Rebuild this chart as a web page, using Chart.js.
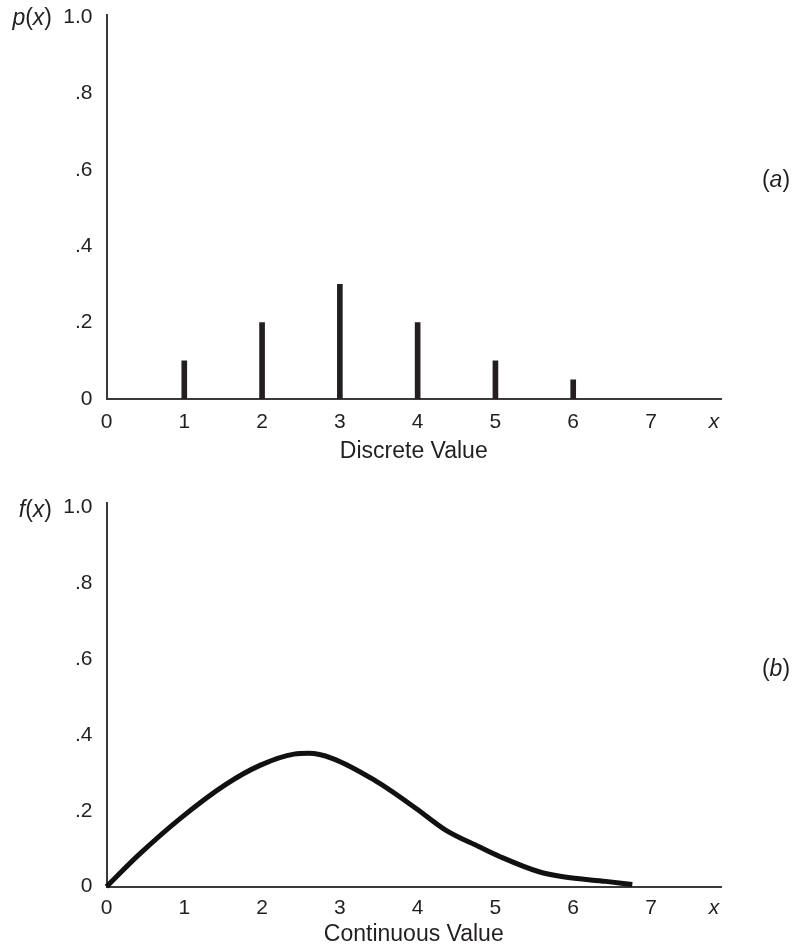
<!DOCTYPE html>
<html>
<head>
<meta charset="utf-8">
<script src="https://cdn.jsdelivr.net/npm/chart.js@4.4.1/dist/chart.umd.min.js"></script>
<style>
  html, body { margin: 0; padding: 0; background: #ffffff; }
  #wrap { position: relative; width: 798px; height: 951px; overflow: hidden; }
  canvas { position: absolute; left: 0; }
  #c1 { top: 0; }
  #c2 { top: 475px; }
</style>
</head>
<body>
<div id="wrap">
  <canvas id="c1" width="798" height="475"></canvas>
  <canvas id="c2" width="798" height="476"></canvas>
</div>
<script>
// ---- data ----
const xTicks = [0, 1, 2, 3, 4, 5, 6, 7];
const xAxisSymbol = 'x';
const yTicks = [0, 0.2, 0.4, 0.6, 0.8, 1.0];
const yTickLabels = ['0', '.2', '.4', '.6', '.8', '1.0'];

const discreteX = [1, 2, 3, 4, 5, 6];
const discreteP = [0.10, 0.20, 0.30, 0.20, 0.10, 0.05];

const continuousX = [0, 0.41, 0.95, 1.54, 1.98, 2.41, 2.60, 2.90, 3.44, 3.98, 4.36, 4.79, 5.06, 5.55, 5.87, 6.42, 6.76];
const continuousF = [0, 0.083, 0.180, 0.270, 0.320, 0.349, 0.351, 0.338, 0.281, 0.206, 0.149, 0.105, 0.079, 0.040, 0.026, 0.014, 0.006];

const titleTop = 'Discrete Value';
const titleBottom = 'Continuous Value';
const funcTop = 'p';
const funcBottom = 'f';
const tagTop = 'a';
const tagBottom = 'b';

// ---- styling ----
const FONT = "'Liberation Sans', Arial, Helvetica, sans-serif";
const INK = '#231f20';
const AXIS = '#3a3a3a';
const X_SYMBOL_POS = 7.81;

const extraLabels = {
  id: 'extraLabels',
  afterDraw(chart, args, o) {
    const ctx = chart.ctx;
    const yScale = chart.scales.y;
    ctx.save();
    ctx.fillStyle = INK;
    ctx.textBaseline = 'middle';
    const drawParts = (parts, startX, y) => {
      let x = startX;
      for (const [t, st] of parts) {
        ctx.font = (st === 'italic' ? 'italic ' : '') + o.size + 'px ' + FONT;
        ctx.fillText(t, x, y);
        x += ctx.measureText(t).width;
      }
    };
    const width = (parts) => parts.reduce((s, [t, st]) => {
      ctx.font = (st === 'italic' ? 'italic ' : '') + o.size + 'px ' + FONT;
      return s + ctx.measureText(t).width;
    }, 0);
    // function name, e.g. p(x)
    const fParts = [[o.fn, 'italic'], ['(', 'normal'], ['x', 'italic'], [')', 'normal']];
    const yTop = yScale.getPixelForValue(yTicks[yTicks.length - 1]) + o.fnDy;
    drawParts(fParts, o.fnRight - width(fParts), yTop);
    // panel tag, e.g. (a)
    const tParts = [['(', 'normal'], [o.tag, 'italic'], [')', 'normal']];
    drawParts(tParts, o.tagX - width(tParts) / 2, yScale.getPixelForValue(o.tagValue));
    ctx.restore();
  }
};

function makeOptions(cfg) {
  return {
    responsive: false,
    animation: false,
    devicePixelRatio: 1,
    layout: { padding: { top: cfg.top, right: 77, left: 0, bottom: 0 } },
    plugins: {
      legend: { display: false },
      tooltip: { enabled: false },
      extraLabels: { fn: cfg.fn, tag: cfg.tag, size: 23, fnRight: 52, fnDy: cfg.fnDy, tagX: 776, tagValue: 0.571 }
    },
    scales: {
      x: {
        type: 'linear',
        min: 0,
        max: 7.9,
        offset: false,
        afterFit: (s) => { s.height = cfg.xHeight; s.paddingLeft = 0; s.paddingRight = 0; },
        afterBuildTicks: (s) => { s.ticks = xTicks.concat([X_SYMBOL_POS]).map(v => ({ value: v })); },
        grid: { display: false, drawTicks: false, tickLength: 0 },
        border: { display: true, color: AXIS, width: 2 },
        ticks: {
          autoSkip: false,
          maxRotation: 0,
          padding: cfg.xPad,
          color: INK,
          font: (c) => (c.tick && c.tick.value === X_SYMBOL_POS)
            ? { family: FONT, size: 21, style: 'italic' }
            : { family: FONT, size: 21 },
          callback: (v) => v === X_SYMBOL_POS ? xAxisSymbol : String(v)
        },
        title: {
          display: true,
          text: cfg.title,
          color: INK,
          font: { family: FONT, size: 23 },
          padding: { top: 0, bottom: cfg.titlePadBottom }
        }
      },
      y: {
        type: 'linear',
        min: 0,
        max: cfg.yMax,
        afterFit: (s) => { s.width = 106.5; s.paddingTop = 0; s.paddingBottom = 0; },
        afterBuildTicks: (s) => { s.ticks = yTicks.map(v => ({ value: v })); },
        grid: { display: false, drawTicks: false, tickLength: 0 },
        border: { display: true, color: AXIS, width: 2 },
        ticks: {
          autoSkip: false,
          padding: 14,
          color: INK,
          font: { family: FONT, size: 21 },
          callback: (v, i) => yTickLabels[i]
        }
      }
    }
  };
}

new Chart(document.getElementById('c1'), {
  type: 'bar',
  data: {
    datasets: [{
      data: discreteX.map((x, i) => ({ x: x, y: discreteP[i] })),
      backgroundColor: INK,
      borderWidth: 0,
      barThickness: 5
    }]
  },
  options: makeOptions({ top: 15, fn: funcTop, tag: tagTop, fnDy: 2, xHeight: 76, xPad: 11, title: titleTop, titlePadBottom: 10, yMax: 1.005 }),
  plugins: [extraLabels]
});

new Chart(document.getElementById('c2'), {
  type: 'line',
  data: {
    datasets: [{
      data: continuousX.map((x, i) => ({ x: x, y: continuousF[i] })),
      borderColor: '#111111',
      borderWidth: 5,
      pointRadius: 0,
      fill: false,
      tension: 0.4,
      cubicInterpolationMode: 'monotone',
      clip: false
    }]
  },
  options: makeOptions({ top: 28, fn: funcBottom, tag: tagBottom, fnDy: 4, xHeight: 64.3, xPad: 9, title: titleBottom, titlePadBottom: 3, yMax: 1.01 }),
  plugins: [extraLabels]
});
</script>
</body>
</html>
